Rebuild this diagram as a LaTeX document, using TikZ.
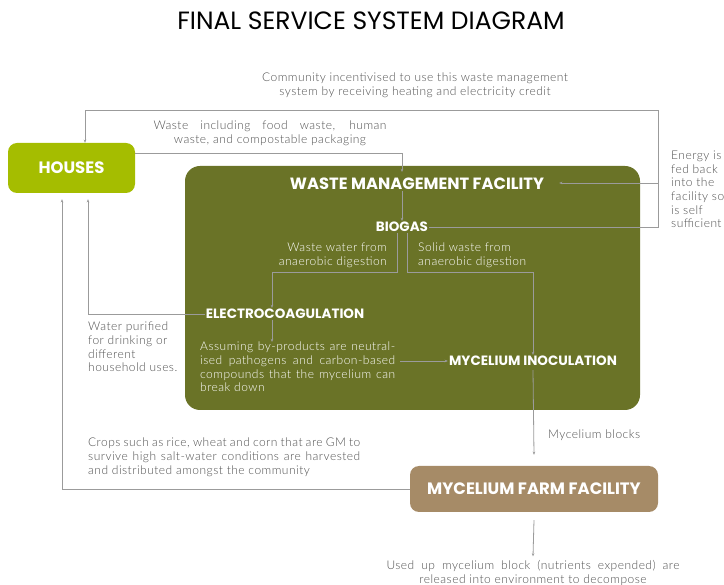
\documentclass[tikz,border=0pt]{standalone}
\usepackage{fontspec}
\setmainfont{Lato}[UprightFont={* Light}, BoldFont={* Bold}, LetterSpace=4]
\newfontfamily\headfont{Poppins}
\usetikzlibrary{arrows.meta}

\definecolor{housegreen}{HTML}{A5BD00}
\definecolor{wmfolive}{HTML}{6A7327}
\definecolor{farmtan}{HTML}{A68B67}
\definecolor{linegray}{HTML}{9B9B9B}
\definecolor{txtgray}{HTML}{505050}

\tikzset{
  box/.style={rounded corners=9pt, inner sep=0pt, text=white,
    font=\headfont\bfseries\fontsize{16.5}{18}\selectfont},
  lbl/.style={inner sep=1pt, text=white, font=\headfont\bfseries\fontsize{13.5}{15}\selectfont},
  note/.style={inner sep=0pt, text=txtgray, align=center, font=\fontsize{12}{13.6}\selectfont},
  innote/.style={note, text=white},
  ln/.style={draw=linegray, line width=0.8pt},
  arr/.style={ln, -{Stealth[length=3.2pt,width=2.6pt]}}
}

\begin{document}
\begin{tikzpicture}[x=1pt, y=-1pt]
\useasboundingbox (0,0) rectangle (724,585);

% title
\node[font=\headfont\fontsize{25}{28}\selectfont] (title) at (371,21) {FINAL SERVICE SYSTEM DIAGRAM};

% main blocks
\node[box, fill=housegreen, minimum width=127pt, minimum height=50pt] (houses) at (71.5,168) {HOUSES};
\node[box, fill=wmfolive, rounded corners=15pt, minimum width=455pt, minimum height=244pt] (wmf) at (412.5,288) {};
\node[lbl, font=\headfont\bfseries\fontsize{16.3}{18}\selectfont] (wmft) at (417,184) {WASTE MANAGEMENT FACILITY};
\node[lbl] (biogas) at (402,227) {BIOGAS};
\node[lbl] (electro) at (285,314) {ELECTROCOAGULATION};
\node[lbl] (inoc) at (533,361) {MYCELIUM INOCULATION};
\node[box, fill=farmtan, minimum width=248pt, minimum height=46pt] (farm) at (534,489) {MYCELIUM FARM FACILITY};

% annotations
\node[note] (community) at (415,85) {Community incentivised to use this waste management\\system by receiving heating and electricity credit};
\node[note] (wastetxt) at (270,133) {\makebox[233pt][s]{Waste including food waste, human}\\waste, and compostable packaging};
\node[note, align=left, anchor=north west] (energy) at (671,151) {Energy is\\fed back\\into the\\facility so\\is self\\sufficient};
\node[note, align=left, anchor=north west] (water) at (88,322) {Water purified\\for drinking or\\different\\household uses.};
\node[innote, align=right, anchor=north east] (wwater) at (387,243) {Waste water from\\anaerobic digestion};
\node[innote, align=left, anchor=north west] (swaste) at (418,243) {Solid waste from\\anaerobic digestion};
\node[innote, align=left, anchor=north west] (assume) at (200,342) {\makebox[195pt][s]{Assuming by-products are neutral-}\\\makebox[195pt][s]{ised pathogens and carbon-based}\\\makebox[195pt][s]{compounds that the mycelium can}\\break down};
\node[note, anchor=west] (blocks) at (548,435) {Mycelium blocks};
\node[note, align=left, anchor=north west] (crops) at (88,438) {\makebox[272pt][s]{Crops such as rice, wheat and corn that are GM to}\\\makebox[272pt][s]{survive high salt-water conditions are harvested}\\and distributed amongst the community};
\node[note] (used) at (533,573) {\makebox[293pt][s]{Used up mycelium block (nutrients expended) are}\\released into environment to decompose};

% bend points
\coordinate (loopR) at (658,110);
\coordinate (feedR) at (658,183);
\coordinate (wmfin) at (402,172);
\coordinate (split) at (402,272);

% connectors
\draw[arr] ([yshift=15pt]houses.east) -| (wmfin);
\draw[arr] (wmft.south -| biogas) -- (biogas.north);
\draw[arr] (biogas.east) -| (loopR) -| ([xshift=13.5pt]houses.north);
\draw[arr] (feedR) -- ([xshift=14pt]wmft.east |- feedR);
\draw[arr] ([xshift=-5pt]biogas.south) |- ([xshift=-5pt]split) -| ([xshift=-13pt]electro.north);
\draw[arr] ([xshift=5pt]biogas.south) |- ([xshift=5pt]split) -| (inoc.north);
\draw[arr] (electro.west) -| ([xshift=16.5pt,yshift=-6pt]houses.south);
\coordinate (elx) at ([xshift=-13pt]electro.south);
\draw[arr] (elx) -- (elx |- assume.north);
\draw[arr] ([xshift=5pt]assume.east |- inoc.west) -- (inoc.west);
\draw[arr] ([yshift=-3pt]inoc.south) -- ([yshift=11pt]farm.north);
\draw[arr] (farm.west) -| ([xshift=-9.5pt,yshift=-6pt]houses.south);
\draw[arr] ([yshift=-8pt]farm.south) -- ([yshift=4pt]used.north);
\end{tikzpicture}
\end{document}
